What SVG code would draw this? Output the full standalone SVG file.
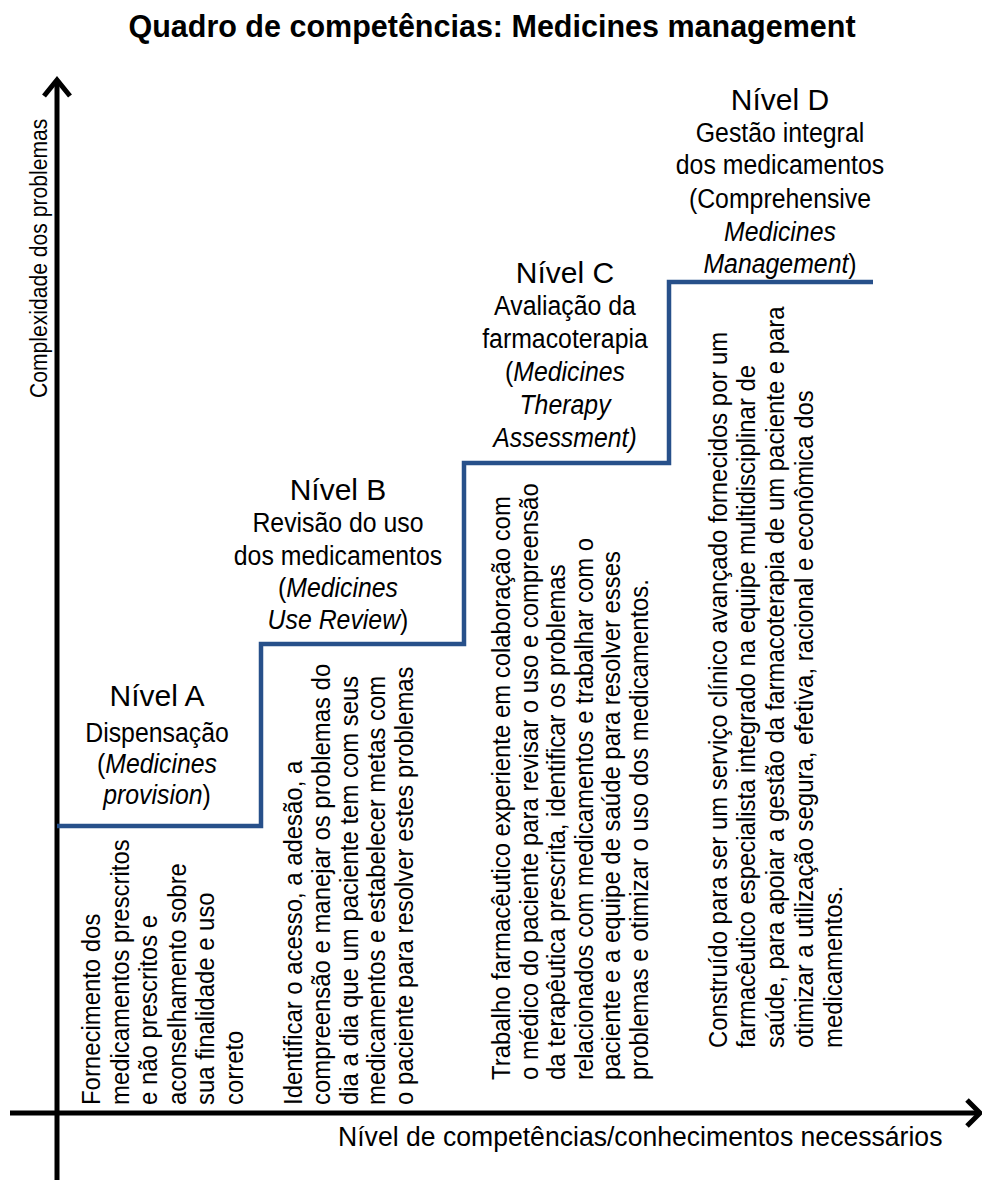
<svg xmlns="http://www.w3.org/2000/svg" width="982" height="1180" viewBox="0 0 982 1180">
<style>
  text { font-family: "Liberation Sans", Arial, sans-serif; fill: #000; }
  .title { font-size: 30.5px; font-weight: bold; }
  .lv { font-size: 30px; }
  .sub { font-size: 27px; }
  .col { font-size: 26px; }
  .ax { font-size: 24px; }
  .axb { font-size: 28px; }
  .it { font-style: italic; }
  .axis { fill: none; stroke: #000; stroke-width: 5; }
  .head { fill: none; stroke: #000; stroke-width: 5; stroke-linejoin: miter; stroke-linecap: butt; }
  .step { fill: none; stroke: #27508A; stroke-width: 4.5; stroke-linejoin: miter; }
</style>
<rect width="982" height="1180" fill="#fff"/>
<text class="title" x="492" y="37" text-anchor="middle">Quadro de competências: Medicines management</text>

<g id="axes">
  <line class="axis" x1="57" y1="1180" x2="57" y2="81"/>
  <polyline class="head" points="44,96 57,80 70,96"/>
  <line class="axis" x1="10" y1="1113" x2="979" y2="1113"/>
  <polyline class="head" points="967,1100 980,1113 967,1126"/>
  <text class="ax" transform="translate(47,398) rotate(-90) scale(0.88,1)">Complexidade  dos problemas</text>
  <text class="axb" transform="translate(338,1146) scale(0.95,1)">Nível de competências/conhecimentos necessários</text>
</g>

<g id="connectors">
  <path class="step" d="M57,826 H261 V644 H464 V463 H669 V282 H873"/>
</g>

<g id="nivel-a">
  <text class="lv" x="157" y="706" text-anchor="middle">Nível A</text>
  <text class="sub" transform="translate(157,742) scale(0.92,1)" text-anchor="middle">Dispensação</text>
  <text class="sub" transform="translate(157,773) scale(0.92,1)" text-anchor="middle">(<tspan class="it">Medicines</tspan></text>
  <text class="sub" transform="translate(157,804) scale(0.92,1)" text-anchor="middle"><tspan class="it">provision</tspan>)</text>
  <g class="col">
    <text transform="translate(100,1105) rotate(-90) scale(0.92,1)">Fornecimento dos</text>
    <text transform="translate(128.6,1105) rotate(-90) scale(0.92,1)">medicamentos prescritos</text>
    <text transform="translate(157.2,1105) rotate(-90) scale(0.92,1)">e não prescritos e</text>
    <text transform="translate(185.8,1105) rotate(-90) scale(0.92,1)">aconselhamento sobre</text>
    <text transform="translate(214.4,1105) rotate(-90) scale(0.92,1)">sua finalidade e uso</text>
    <text transform="translate(243,1105) rotate(-90) scale(0.92,1)">correto</text>
  </g>
</g>

<g id="nivel-b">
  <text class="lv" x="338" y="500" text-anchor="middle">Nível B</text>
  <text class="sub" transform="translate(338,532) scale(0.92,1)" text-anchor="middle">Revisão do uso</text>
  <text class="sub" transform="translate(338,565) scale(0.92,1)" text-anchor="middle">dos medicamentos</text>
  <text class="sub" transform="translate(338,597) scale(0.92,1)" text-anchor="middle">(<tspan class="it">Medicines</tspan></text>
  <text class="sub" transform="translate(338,629) scale(0.92,1)" text-anchor="middle"><tspan class="it">Use Review</tspan>)</text>
  <g class="col">
    <text transform="translate(302,1105) rotate(-90) scale(0.92,1)">Identificar o acesso, a adesão, a</text>
    <text transform="translate(330,1105) rotate(-90) scale(0.92,1)">compreensão e manejar os problemas do</text>
    <text transform="translate(358,1105) rotate(-90) scale(0.92,1)">dia a dia que um paciente tem com seus</text>
    <text transform="translate(385,1105) rotate(-90) scale(0.92,1)">medicamentos e estabelecer metas com</text>
    <text transform="translate(413,1105) rotate(-90) scale(0.92,1)">o paciente para resolver estes problemas</text>
  </g>
</g>

<g id="nivel-c">
  <text class="lv" x="565" y="283" text-anchor="middle">Nível C</text>
  <text class="sub" transform="translate(565,315) scale(0.92,1)" text-anchor="middle">Avaliação da</text>
  <text class="sub" transform="translate(565,348) scale(0.92,1)" text-anchor="middle">farmacoterapia</text>
  <text class="sub" transform="translate(565,381) scale(0.92,1)" text-anchor="middle">(<tspan class="it">Medicines</tspan></text>
  <text class="sub" transform="translate(565,414) scale(0.92,1)" text-anchor="middle"><tspan class="it">Therapy</tspan></text>
  <text class="sub" transform="translate(565,447) scale(0.92,1)" text-anchor="middle"><tspan class="it">Assessment)</tspan></text>
  <g class="col">
    <text transform="translate(510,1080) rotate(-90) scale(0.92,1)">Trabalho farmacêutico experiente em colaboração com</text>
    <text transform="translate(537.6,1080) rotate(-90) scale(0.92,1)">o médico do paciente para revisar o uso e compreensão</text>
    <text transform="translate(565.2,1080) rotate(-90) scale(0.92,1)">da terapêutica prescrita, identificar os problemas</text>
    <text transform="translate(592.8,1080) rotate(-90) scale(0.92,1)">relacionados com medicamentos e trabalhar com o</text>
    <text transform="translate(620.4,1080) rotate(-90) scale(0.92,1)">paciente e a equipe de saúde para resolver esses</text>
    <text transform="translate(648,1080) rotate(-90) scale(0.92,1)">problemas e otimizar o uso dos medicamentos.</text>
  </g>
</g>

<g id="nivel-d">
  <text class="lv" x="780" y="110" text-anchor="middle">Nível D</text>
  <text class="sub" transform="translate(780,142) scale(0.92,1)" text-anchor="middle">Gestão integral</text>
  <text class="sub" transform="translate(780,174) scale(0.92,1)" text-anchor="middle">dos medicamentos</text>
  <text class="sub" transform="translate(780,208) scale(0.92,1)" text-anchor="middle">(Comprehensive</text>
  <text class="sub" transform="translate(780,241) scale(0.92,1)" text-anchor="middle"><tspan class="it">Medicines</tspan></text>
  <text class="sub" transform="translate(780,273) scale(0.92,1)" text-anchor="middle"><tspan class="it">Management</tspan>)</text>
  <g class="col">
    <text transform="translate(727,1048) rotate(-90) scale(0.92,1)">Construído para ser um serviço clínico avançado fornecidos por um</text>
    <text transform="translate(755,1048) rotate(-90) scale(0.92,1)">farmacêutico especialista integrado na equipe multidisciplinar de</text>
    <text transform="translate(784,1048) rotate(-90) scale(0.92,1)">saúde, para apoiar a gestão da farmacoterapia de um paciente e para</text>
    <text transform="translate(813,1048) rotate(-90) scale(0.92,1)">otimizar a utilização  segura, efetiva, racional e econômica dos</text>
    <text transform="translate(842,1048) rotate(-90) scale(0.92,1)">medicamentos.</text>
  </g>
</g>
</svg>
